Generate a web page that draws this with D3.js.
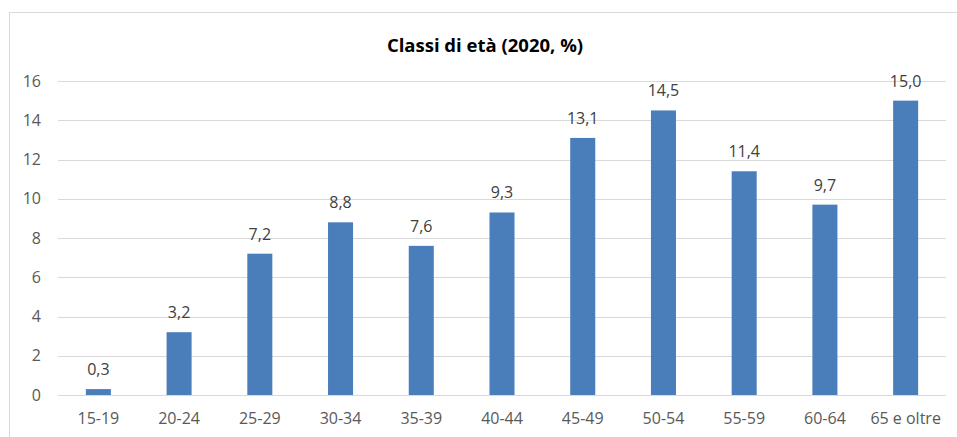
<!DOCTYPE html>
<html>
<head>
<meta charset="utf-8">
<script src="https://cdn.jsdelivr.net/npm/d3@7"></script>
<style>
  body { margin: 0; background: #fff; }
  text { font-family: "Open Sans", "Noto Sans", sans-serif; }
</style>
</head>
<body>
<script>
// classi di età, quote percentuali 2020
var categorie = ["15-19", "20-24", "25-29", "30-34", "35-39", "40-44", "45-49", "50-54", "55-59", "60-64", "65 e oltre"];
var valori = [0.3, 3.2, 7.2, 8.8, 7.6, 9.3, 13.1, 14.5, 11.4, 9.7, 15.0];
var tickY = [0, 2, 4, 6, 8, 10, 12, 14, 16];

var W = 957, H = 437;
var margin = { top: 81, right: 11, bottom: 42, left: 58 };
var iwidth = W - margin.left - margin.right,
    iheight = H - margin.top - margin.bottom;

var svg = d3.select("body").append("svg")
    .attr("width", W)
    .attr("height", H);

// cornice del grafico
svg.append("rect")
    .attr("x", 9.5).attr("y", 12.5)
    .attr("width", W).attr("height", H)
    .attr("fill", "none")
    .attr("stroke", "#d9d9d9");

svg.append("text")
    .attr("x", 485).attr("y", 52)
    .attr("text-anchor", "middle")
    .attr("font-size", 18.5)
    .attr("font-weight", "bold")
    .attr("fill", "#000")
    .text("Classi di età (2020, %)");

var g = svg.append("g").attr("transform", "translate(" + margin.left + "," + margin.top + ")");

var x = d3.scaleBand()
    .domain(categorie)
    .range([0, iwidth])
    .paddingInner(0.69)
    .paddingOuter(0.345);

var y = d3.scaleLinear()
    .domain([0, 16])
    .range([iheight, 0]);

// griglia
g.append("g")
  .selectAll("line")
  .data(tickY)
  .enter().append("line")
    .attr("x1", 0).attr("x2", iwidth)
    .attr("y1", d => Math.round(y(d)) + 0.5)
    .attr("y2", d => Math.round(y(d)) + 0.5)
    .attr("stroke", "#d9d9d9")
    .attr("stroke-width", 1);

var yAxis = g.append("g")
    .call(d3.axisLeft(y).tickValues(tickY).tickSize(0).tickPadding(17));
yAxis.select(".domain").remove();
yAxis.selectAll("text")
    .attr("font-size", 16)
    .attr("fill", "#595959")
    .style("font-family", "'Open Sans', sans-serif");

var xAxis = g.append("g")
    .attr("transform", "translate(0," + iheight + ")")
    .call(d3.axisBottom(x).tickSize(0).tickPadding(18));
xAxis.select(".domain").remove();
xAxis.selectAll("text")
    .attr("font-size", 16)
    .attr("fill", "#595959")
    .style("font-family", "'Open Sans', sans-serif");

g.selectAll("rect.bar")
    .data(valori)
    .enter().append("rect")
    .attr("class", "bar")
    .attr("x", (d, i) => x(categorie[i]))
    .attr("y", d => y(d))
    .attr("width", x.bandwidth())
    .attr("height", d => iheight - y(d))
    .attr("fill", "#4a7ebb");

g.selectAll("text.val")
    .data(valori)
    .enter().append("text")
    .attr("class", "val")
    .attr("x", (d, i) => x(categorie[i]) + x.bandwidth() / 2)
    .attr("y", d => y(d) - 14)
    .attr("text-anchor", "middle")
    .attr("font-size", 16)
    .attr("fill", "#404040")
    .text(d => d3.format(".1f")(d).replace(".", ","));
</script>
</body>
</html>
